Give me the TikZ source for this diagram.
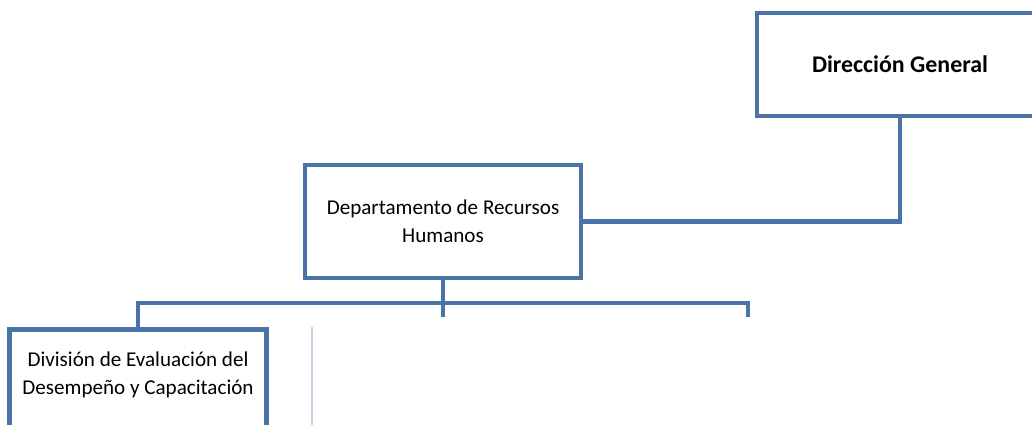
\documentclass[tikz,border=0pt]{standalone}
\usepackage{fontspec}
\setmainfont{Carlito}
\definecolor{orgblue}{RGB}{74,116,168}
\definecolor{faintline}{RGB}{200,212,228}
\tikzset{
  orgbox/.style={draw=orgblue, line width=3.5pt, fill=white, align=center,
    inner sep=0pt, font=\fontsize{15}{19.8}\selectfont},
  orgline/.style={draw=orgblue, line width=3.5pt}
}
\begin{document}
\begin{tikzpicture}[x=0.025cm, y=-0.025cm]
				\useasboundingbox (0,0) rectangle (1032,425);
				\clip (0,0) rectangle (1032,425);
				% boxes
				\node[orgbox, minimum width=286*0.025cm, minimum height=103*0.025cm, font=\fontsize{17}{20}\selectfont] (dg) at (900,64.5) {\textbf{Dirección General}};
				\node[orgbox, minimum width=276*0.025cm, minimum height=113*0.025cm] (drh) at (443,221.5) {Departamento de Recursos\\Humanos};
				\node[orgbox, minimum width=257*0.025cm, minimum height=130*0.025cm, anchor=north] (div) at (138,327) {};
				\node[align=center, inner sep=0pt, font=\fontsize{15}{19.8}\selectfont] (divtext) at (138,375) {División de Evaluación del\\Desempeño y Capacitación};
				% bar and stubs
				\coordinate (barL) at (138,303);
				\coordinate (barR) at (748,303);
				\coordinate (stubM) at (443,317);
				\coordinate (stubR) at (748,317);
				\draw[orgline] (dg.south) -- (dg.south |- drh.east) -- (drh.east);
				\draw[orgline] (drh.south) -- (stubM);
				\draw[orgline] (div.north) -- (barL) -- (barR) -- (stubR);
				\draw[faintline, line width=1pt] (312,327) -- (312,425);
			\end{tikzpicture}
\end{document}
